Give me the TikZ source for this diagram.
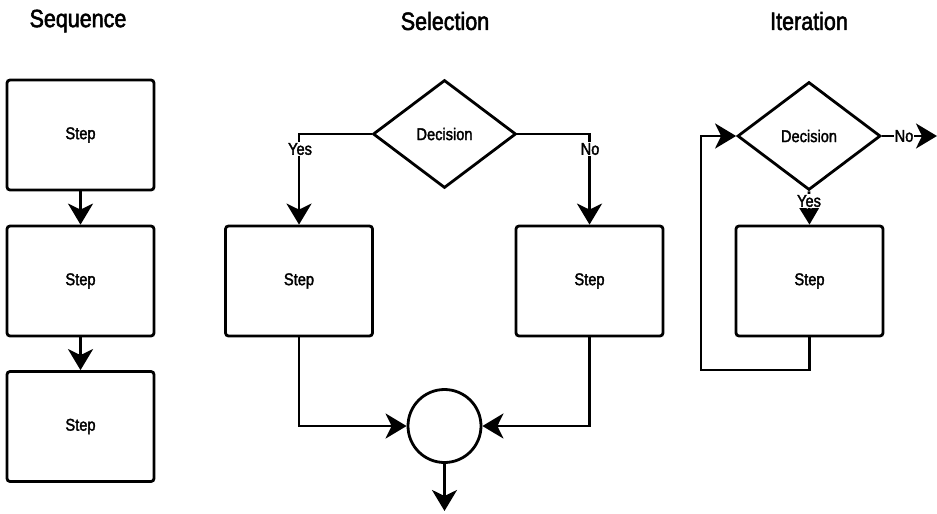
\documentclass[tikz,border=0pt]{standalone}
\usepackage{xcolor}
\usepackage{fontspec}
\setmainfont{Liberation Sans}[FakeStretch=0.86,FakeBold=2]
\usetikzlibrary{shapes.geometric,arrows.meta}

\tikzset{
	stepbox/.style={draw, line width=2.8pt, rounded corners=3pt, minimum width=147pt, minimum height=110pt, inner sep=0pt, font=\fontsize{17}{20}\selectfont},
	decbox/.style={draw, diamond, line width=2.8pt, aspect=1.32, minimum width=143pt, minimum height=108pt, inner sep=0pt, font=\fontsize{17}{20}\selectfont},
	joinbox/.style={draw, circle, line width=2.8pt, minimum size=73pt, inner sep=0pt},
	heading/.style={font=\fontsize{25}{29}\selectfont},
	answer/.style={fill=white, inner sep=1pt, font=\fontsize{17}{20}\selectfont},
	arr/.style={line width=2.8pt, -{Stealth[length=21pt 0 0,width=25pt 0,inset=6pt 0]}}
}

\begin{document}
\begin{tikzpicture}[x=1pt,y=-1pt]
		\useasboundingbox (0,0) rectangle (937,514);
		% headings
		\node[heading] (hseq) at (78,21) {Sequence};
		\node[heading] (hsel) at (445,21) {Selection};
		\node[heading] (hit) at (809,21) {Iteration};
		% sequence
		\node[stepbox] (s1) at (80.5,135) {Step};
		\node[stepbox] (s2) at (80.5,281) {Step};
		\node[stepbox] (s3) at (80.5,426.5) {Step};
		\draw[arr] (s1) -- (s2);
		\draw[arr] (s2) -- (s3);
		% selection
		\node[decbox] (d1) at (444.5,134) {Decision};
		\node[stepbox] (a1) at (299,281) {Step};
		\node[stepbox] (b1) at (589.5,281) {Step};
		\node[joinbox] (m) at (444.5,426) {};
		\coordinate (mout) at (444.5,511);
		\draw[arr] (d1.west) -| (a1.north);
		\draw[arr] (d1.east) -| (b1.north);
		\draw[arr] (a1.south) |- (m.west);
		\draw[arr] (b1.south) |- (m.east);
		\draw[arr] (m.south) -- (mout);
		\node[answer] (yes1) at (300,149) {Yes};
		\node[answer] (no1) at (590,149) {No};
		% iteration
		\node[decbox] (d2) at (809,136) {Decision};
		\node[stepbox] (c1) at (809.5,281) {Step};
		\coordinate (lp) at (701,370);
		\coordinate (nout) at (937,136);
		\draw[arr] (d2.south) -- (c1.north);
		\draw[arr] (c1.south) |- (lp) |- (d2.west);
		\draw[arr] (d2.east) -- (nout);
		\node[answer] (yes2) at (809,201) {Yes};
		\node[answer] (no2) at (904,136) {No};
	\end{tikzpicture}
\end{document}
